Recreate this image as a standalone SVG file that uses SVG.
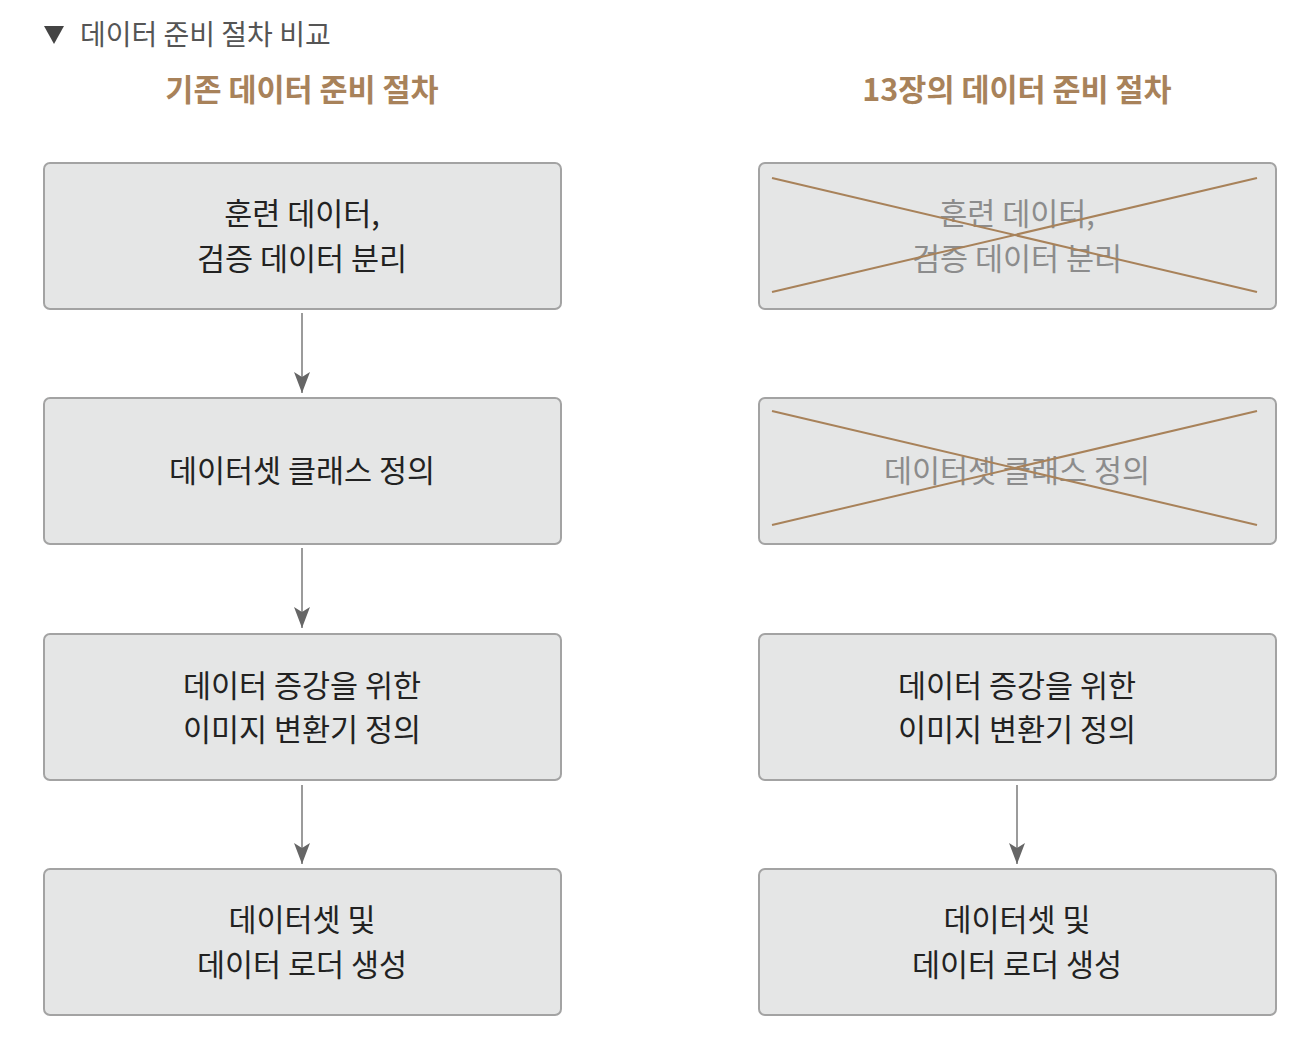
<svg xmlns="http://www.w3.org/2000/svg" width="1306" height="1044" viewBox="0 0 1306 1044">
<style>
.box{fill:#e5e6e6;stroke:#a3a3a3;stroke-width:2}
.t{font-family:"Noto Sans CJK KR","Noto Sans",sans-serif;font-size:30.5px;fill:#222;text-anchor:middle}
.g{fill:#8c8c8c}
.h{font-family:"Noto Sans CJK KR","Noto Sans",sans-serif;font-size:30.5px;font-weight:bold;fill:#a8825a;text-anchor:middle}
.x{stroke:#a8825a;stroke-width:2}
.c{stroke:#7a7a7a;stroke-width:1.5;fill:none}
</style>
<defs>
<marker id="ah" markerWidth="22" markerHeight="16" refX="21" refY="8" orient="auto" markerUnits="userSpaceOnUse" viewBox="0 0 22 16">
<path d="M0,0 L21,8 L0,16 L5,8 Z" fill="#666"/>
</marker>
</defs>
<g id="title">
<path d="M44,26 L64,26 L54,44 Z" fill="#444"/>
<text x="80" y="45" style="font-family:'Noto Sans CJK KR','Noto Sans',sans-serif;font-size:28px;fill:#555">데이터 준비 절차 비교</text>
</g>
<text class="h" x="302" y="101">기존 데이터 준비 절차</text>
<text class="h" x="1017" y="101">13장의 데이터 준비 절차</text>
<g id="connectors">
<path class="c" d="M302,313 V393" marker-end="url(#ah)"/>
<path class="c" d="M302,548 V628" marker-end="url(#ah)"/>
<path class="c" d="M302,785 V864" marker-end="url(#ah)"/>
<path class="c" d="M1017,785 V864" marker-end="url(#ah)"/>
</g>
<g id="l1"><rect class="box" x="44" y="163" width="517" height="146" rx="6"/>
<text class="t" x="302" y="225">훈련 데이터,</text><text class="t" x="302" y="270">검증 데이터 분리</text></g>
<g id="l2"><rect class="box" x="44" y="398" width="517" height="146" rx="6"/>
<text class="t" x="302" y="482">데이터셋 클래스 정의</text></g>
<g id="l3"><rect class="box" x="44" y="634" width="517" height="146" rx="6"/>
<text class="t" x="302" y="697">데이터 증강을 위한</text><text class="t" x="302" y="741">이미지 변환기 정의</text></g>
<g id="l4"><rect class="box" x="44" y="869" width="517" height="146" rx="6"/>
<text class="t" x="302" y="931">데이터셋 및</text><text class="t" x="302" y="976">데이터 로더 생성</text></g>
<g id="r1"><rect class="box" x="759" y="163" width="517" height="146" rx="6"/>
<text class="t g" x="1017" y="225">훈련 데이터,</text><text class="t g" x="1017" y="270">검증 데이터 분리</text>
<line class="x" x1="772" y1="178" x2="1257" y2="292"/><line class="x" x1="772" y1="292" x2="1257" y2="178"/></g>
<g id="r2"><rect class="box" x="759" y="398" width="517" height="146" rx="6"/>
<text class="t g" x="1017" y="482">데이터셋 클래스 정의</text>
<line class="x" x1="772" y1="411" x2="1257" y2="525"/><line class="x" x1="772" y1="525" x2="1257" y2="411"/></g>
<g id="r3"><rect class="box" x="759" y="634" width="517" height="146" rx="6"/>
<text class="t" x="1017" y="697">데이터 증강을 위한</text><text class="t" x="1017" y="741">이미지 변환기 정의</text></g>
<g id="r4"><rect class="box" x="759" y="869" width="517" height="146" rx="6"/>
<text class="t" x="1017" y="931">데이터셋 및</text><text class="t" x="1017" y="976">데이터 로더 생성</text></g>
</svg>
